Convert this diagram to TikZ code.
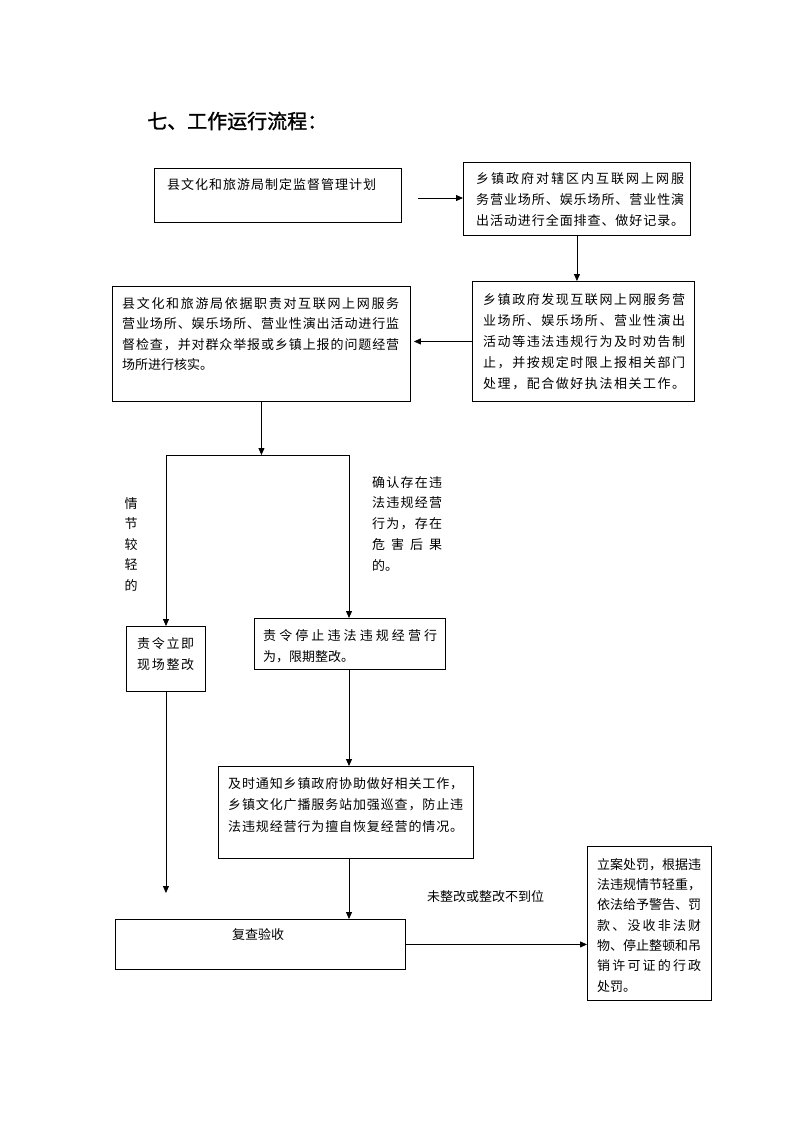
\documentclass[tikz,border=0pt]{standalone}
\usepackage{fontspec}
\newfontfamily\cjk{Noto Sans CJK SC}
\newfontfamily\cjktitle[FakeBold=1.2]{Noto Sans CJK SC}
\usetikzlibrary{arrows.meta}
\def\jlA#1{#1\jlB}
\def\jlB#1{\ifx\relax#1\else\hfil#1\expandafter\jlB\fi}
\newcommand\jl[2]{\hbox to #1pt{\jlA#2\relax}}
\begin{document}
\begin{tikzpicture}[x=1pt,y=-1pt,
  box/.style={draw, line width=0.9pt, anchor=north west, inner sep=0pt},
  txt/.style={anchor=north west, inner sep=0pt, align=left, font=\cjk\fontsize{13}{21}\selectfont},
  conn/.style={line width=0.8pt},
  arr/.style={conn, -{Triangle[length=7pt,width=6pt]}}]
\useasboundingbox[fill=white] (0,0) rectangle (793,1122);

\node[anchor=west, inner sep=0pt, font=\cjktitle\fontsize{20}{24}\selectfont] (title) at (147,121) {七、工作运行流程：};

% boxes
\node[box, minimum width=247pt, minimum height=54pt] (b1) at (154,168) {};
\node[box, minimum width=227pt, minimum height=73pt] (b2) at (463,162) {};
\node[box, minimum width=222pt, minimum height=120pt] (b3) at (472,281) {};
\node[box, minimum width=298pt, minimum height=115pt] (b4) at (112,286) {};
\node[box, minimum width=79pt, minimum height=65pt] (b5) at (126,626) {};
\node[box, minimum width=191pt, minimum height=51pt] (b6) at (254,618) {};
\node[box, minimum width=255pt, minimum height=92pt] (b7) at (218,766) {};
\node[box, minimum width=290pt, minimum height=50pt] (b8) at (115,919) {};
\node[box, minimum width=124pt, minimum height=154pt] (b9) at (587,846) {};

% texts
\node[txt, anchor=west] (t1) at (167,185) {\jl{209}{县文化和旅游局制定监督管理计划}};
\node[txt] (t2) at (476,172) {\jl{208}{乡镇政府对辖区内互联网上网服}\\\jl{208}{务营业场所、娱乐场所、营业性演}\\\jl{208}{出活动进行全面排查、做好记录。}};
\node[txt] (t3) at (483,293) {\jl{202}{乡镇政府发现互联网上网服务营}\\\jl{202}{业场所、娱乐场所、营业性演出}\\\jl{202}{活动等违法违规行为及时劝告制}\\\jl{202}{止，并按规定时限上报相关部门}\\\jl{202}{处理，配合做好执法相关工作。}};
\node[txt, font=\cjk\fontsize{13}{20.5}\selectfont] (t4) at (122,297) {\jl{277}{县文化和旅游局依据职责对互联网上网服务}\\\jl{277}{营业场所、娱乐场所、营业性演出活动进行监}\\\jl{277}{督检查，并对群众举报或乡镇上报的问题经营}\\场所进行核实。};
\node[txt, font=\cjk\fontsize{13}{21}\selectfont] (t5) at (137,637) {\jl{57}{责令立即}\\\jl{57}{现场整改}};
\node[txt] (t6) at (263,629) {\jl{174}{责令停止违法违规经营行}\\为，限期整改。};
\node[txt, font=\cjk\fontsize{13}{21.5}\selectfont] (t7) at (228,777) {\jl{235}{及时通知乡镇政府协助做好相关工作，}\\\jl{235}{乡镇文化广播服务站加强巡查，防止违}\\\jl{235}{法违规经营行为擅自恢复经营的情况。}};
\node[txt, anchor=west] (t8) at (232,935) {复查验收};
\node[txt, font=\cjk\fontsize{13}{20.3}\selectfont] (t9) at (597,858) {\jl{104}{立案处罚，根据违}\\\jl{104}{法违规情节轻重，}\\\jl{104}{依法给予警告、罚}\\\jl{104}{款、没收非法财}\\\jl{104}{物、停止整顿和吊}\\\jl{104}{销许可证的行政}\\处罚。};

% labels
\node[txt, align=center, font=\cjk\fontsize{13}{20.5}\selectfont, anchor=north] (l1) at (131,497) {情\\节\\较\\轻\\的};
\node[txt, font=\cjk\fontsize{13}{20.8}\selectfont] (l2) at (372,476) {\jl{70}{确认存在违}\\\jl{70}{法违规经营}\\\jl{70}{行为，存在}\\\jl{70}{危害后果}\\的。};
\node[txt, anchor=west] (l3) at (427,897) {未整改或整改不到位};

% connectors
\coordinate (a1s) at (418,198);
\draw[arr] (a1s) -- (a1s -| b2.west);
\draw[arr] (b2.south) -- (b2.south |- b3.north);
\draw[arr, shorten >=3pt] (b3.west) -- (b3.west -| b4.east);
\coordinate (jl) at (166,455);
\coordinate (jr) at (349,455);
\draw[arr] (b4.south) -- (b4.south |- jl);
\draw[conn] (jl) -- (jr);
\draw[arr] (jl) -- (jl |- b5.north);
\draw[arr] (jr) -- (jr |- b6.north);
\coordinate (e5) at (166,893);
\draw[arr] (b5.south) -- (b5.south |- e5);
\coordinate (cx) at (349,0);
\draw[arr] (cx |- b6.south) -- (cx |- b7.north);
\draw[arr] (cx |- b7.south) -- (cx |- b8.north);
\draw[arr] (b8.east) -- (b8.east -| b9.west);
\end{tikzpicture}
\end{document}
